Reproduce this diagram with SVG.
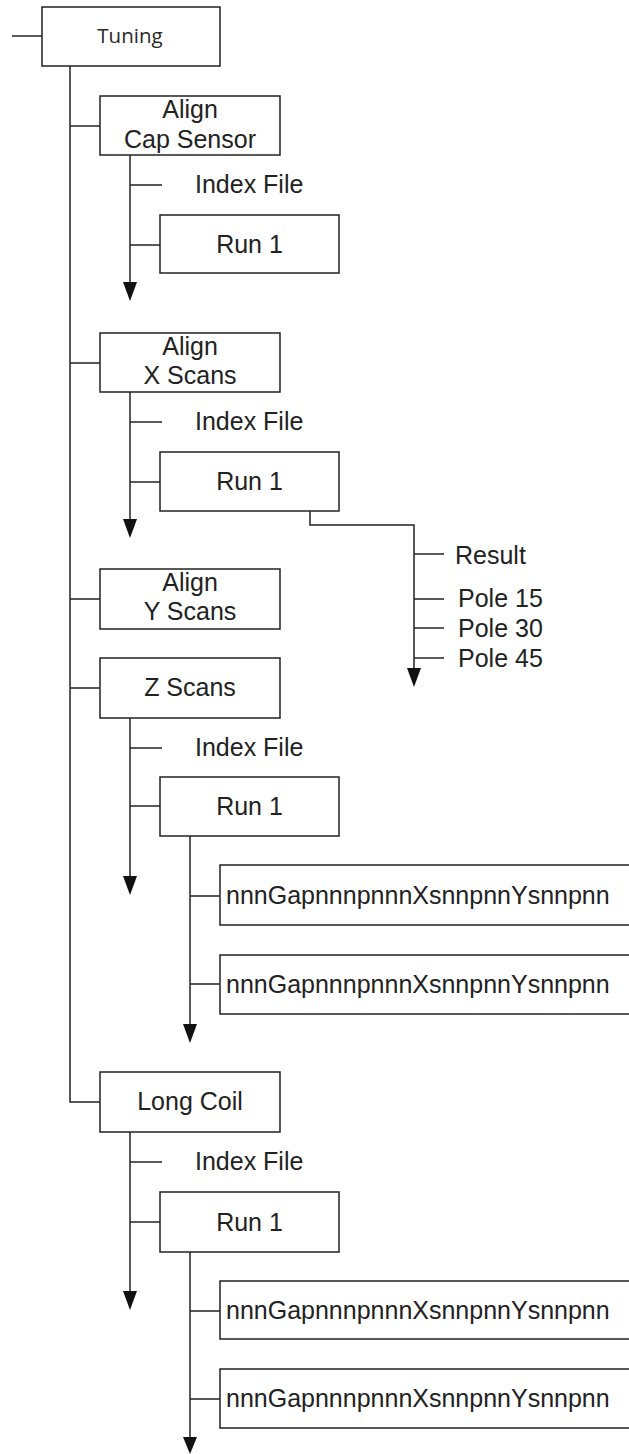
<svg xmlns="http://www.w3.org/2000/svg" width="629" height="1454" viewBox="0 0 629 1454">
<style>
.box{fill:#fff;stroke:#222;stroke-width:1.5}
.ln{fill:none;stroke:#222;stroke-width:1.5}
.t{font-family:"Liberation Sans",Arial,sans-serif;font-size:25px;fill:#222}
.c{text-anchor:middle}
.tn{font-family:"Open Sans",sans-serif;font-size:20.5px;fill:#2a2a2a;text-anchor:middle}
.ah{fill:#111}
</style>
<rect width="629" height="1454" fill="#fff"/>
<g id="connectors">
<line class="ln" x1="12" y1="36" x2="42" y2="36"/>
<polyline class="ln" points="70,66 70,1102 100,1102"/>
<line class="ln" x1="70" y1="126" x2="100" y2="126"/>
<line class="ln" x1="70" y1="363" x2="100" y2="363"/>
<line class="ln" x1="70" y1="599" x2="100" y2="599"/>
<line class="ln" x1="70" y1="688" x2="100" y2="688"/>
<path class="ln" d="M130,155 V284"/>
<path class="ah" d="M123,282 H137 L130,301 Z"/>
<line class="ln" x1="130" y1="185" x2="162" y2="185"/>
<line class="ln" x1="130" y1="245" x2="160" y2="245"/>
<path class="ln" d="M130,392 V521"/>
<path class="ah" d="M123,519 H137 L130,538 Z"/>
<line class="ln" x1="130" y1="422" x2="162" y2="422"/>
<line class="ln" x1="130" y1="482" x2="160" y2="482"/>
<path class="ln" d="M310,511 V525 H414 V670"/>
<path class="ah" d="M407,668 H421 L414,687 Z"/>
<line class="ln" x1="414" y1="554" x2="444" y2="554"/>
<line class="ln" x1="414" y1="599" x2="444" y2="599"/>
<line class="ln" x1="414" y1="628" x2="444" y2="628"/>
<line class="ln" x1="414" y1="658" x2="444" y2="658"/>
<path class="ln" d="M130,718 V878"/>
<path class="ah" d="M123,876 H137 L130,895 Z"/>
<line class="ln" x1="130" y1="748" x2="162" y2="748"/>
<line class="ln" x1="130" y1="806" x2="160" y2="806"/>
<path class="ln" d="M190,836 V1026"/>
<path class="ah" d="M183,1024 H197 L190,1043 Z"/>
<line class="ln" x1="190" y1="896" x2="220" y2="896"/>
<line class="ln" x1="190" y1="984" x2="220" y2="984"/>
<path class="ln" d="M130,1132 V1293"/>
<path class="ah" d="M123,1291 H137 L130,1310 Z"/>
<line class="ln" x1="130" y1="1162" x2="162" y2="1162"/>
<line class="ln" x1="130" y1="1222" x2="160" y2="1222"/>
<path class="ln" d="M190,1252 V1440"/>
<path class="ah" d="M183,1437 H197 L190,1454 Z"/>
<line class="ln" x1="190" y1="1311" x2="220" y2="1311"/>
<line class="ln" x1="190" y1="1399" x2="220" y2="1399"/>
</g>
<g id="tuning"><rect class="box" x="42" y="7" width="178" height="59"/><text class="tn" x="130" y="43">Tuning</text></g>
<g id="align-cap"><rect class="box" x="100" y="96" width="180" height="59"/><text class="t c" x="190" y="118">Align</text><text class="t c" x="190" y="148">Cap Sensor</text></g>
<g id="idx1"><text class="t" x="195" y="193">Index File</text></g>
<g id="run1a"><rect class="box" x="160" y="215" width="179" height="58"/><text class="t c" x="249.5" y="253">Run 1</text></g>
<g id="align-x"><rect class="box" x="100" y="333" width="180" height="59"/><text class="t c" x="190" y="355">Align</text><text class="t c" x="190" y="384">X Scans</text></g>
<g id="idx2"><text class="t" x="195" y="430">Index File</text></g>
<g id="run1b"><rect class="box" x="160" y="452" width="179" height="59"/><text class="t c" x="249.5" y="490">Run 1</text></g>
<g id="result"><text class="t" x="455" y="564">Result</text></g>
<g id="pole15"><text class="t" x="458" y="607">Pole 15</text></g>
<g id="pole30"><text class="t" x="458" y="637">Pole 30</text></g>
<g id="pole45"><text class="t" x="458" y="667">Pole 45</text></g>
<g id="align-y"><rect class="box" x="100" y="569" width="180" height="60"/><text class="t c" x="190" y="591">Align</text><text class="t c" x="190" y="620">Y Scans</text></g>
<g id="z-scans"><rect class="box" x="100" y="658" width="180" height="60"/><text class="t c" x="190" y="696">Z Scans</text></g>
<g id="idx3"><text class="t" x="195" y="756">Index File</text></g>
<g id="run1c"><rect class="box" x="160" y="777" width="179" height="59"/><text class="t c" x="249.5" y="815">Run 1</text></g>
<g id="nnn1"><rect class="box" x="220" y="865" width="420" height="60"/><text class="t" x="226" y="904">nnnGapnnnpnnnXsnnpnnYsnnpnn</text></g>
<g id="nnn2"><rect class="box" x="220" y="955" width="420" height="59"/><text class="t" x="226" y="993">nnnGapnnnpnnnXsnnpnnYsnnpnn</text></g>
<g id="long-coil"><rect class="box" x="100" y="1072" width="180" height="60"/><text class="t c" x="190" y="1110">Long Coil</text></g>
<g id="idx4"><text class="t" x="195" y="1170">Index File</text></g>
<g id="run1d"><rect class="box" x="160" y="1192" width="179" height="60"/><text class="t c" x="249.5" y="1231">Run 1</text></g>
<g id="nnn3"><rect class="box" x="220" y="1281" width="420" height="58"/><text class="t" x="226" y="1319">nnnGapnnnpnnnXsnnpnnYsnnpnn</text></g>
<g id="nnn4"><rect class="box" x="220" y="1369" width="420" height="59"/><text class="t" x="226" y="1407">nnnGapnnnpnnnXsnnpnnYsnnpnn</text></g>
</svg>
